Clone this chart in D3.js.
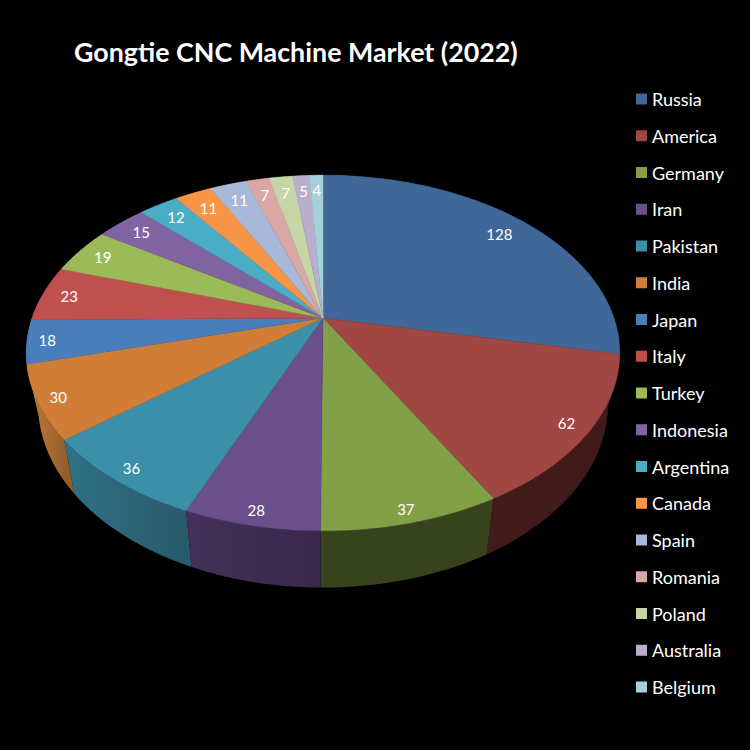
<!DOCTYPE html>
<html><head><meta charset="utf-8">
<script src="https://cdn.jsdelivr.net/npm/d3@7/dist/d3.min.js"></script>
<style>html,body{margin:0;padding:0;background:#000}svg{display:block}text{font-family:Lato,"Open Sans",sans-serif;fill:#fff}</style>
</head><body><svg id="c" width="750" height="750"></svg>
<script>
const categories = ["Russia","America","Germany","Iran","Pakistan","India","Japan","Italy","Turkey","Indonesia","Argentina","Canada","Spain","Romania","Poland","Australia","Belgium"];
const values = [128,62,37,28,36,30,18,23,19,15,12,11,11,7,7,5,4];
const topColors = ["#3f6797","#a04643","#82a047","#6a4f8a","#3c8fa8","#d07d38","#4a7ebb","#c0504d","#9bbb59","#8064a2","#4bacc6","#f79646","#a9b8d8","#d9a7a6","#c5d5a6","#b9aecb","#a6d0dc"];
const wallLeft  = ["#2c4869","#421c1b","#36431c","#44305a","#2f7185","#c07a38","#355a85","#6e2e2c","#5a6c33","#4a3a5e","#2b6373","#8f5728","#62697d","#7d6060","#727b60","#6b6475","#607880"];
const wallRight = ["#1c2e44","#3f1a19","#36431c","#38294a","#285a6a","#8a5a28","#2a4769","#552322","#46542a","#3a2d4a","#224e5b","#704420","#4e5464","#644d4d","#5b624d","#55505e","#4d6066"];
const labelRadius = [0.865,0.927,0.945,0.94,0.934,0.935,0.933,0.905,0.9,0.888,0.879,0.865,0.864,0.87,0.87,0.87,0.875];
const title = "Gongtie CNC Machine Market (2022)";

const W = 750, H = 750;
const svg = d3.select("#c").attr("viewBox", [0,0,W,H]);
svg.append("rect").attr("width",W).attr("height",H).attr("fill","#000");

// perspective projection of the pie disc
const cx = 323, cy = 318, kx = 291, ky = 171, persp = 0.1966;
function project(r, a){
  const u = r*Math.sin(a), v = -r*Math.cos(a), w = 1 - persp*v;
  return [cx + kx*u/w, cy + ky*v/w];
}
function projectBottom(r, a){
  const [x,y] = project(r,a);
  return [cx + 0.96*(x-cx), y + 54 + (y-439)*0.03];
}

const pie = d3.pie().sort(null).value(d=>d).startAngle(0).endAngle(2*Math.PI);
const arcs = pie(values);
const line = d3.line();
const color = d3.scaleOrdinal(d3.range(values.length), topColors);

const defs = svg.append("defs");
arcs.forEach((d,i)=>{
  const g = defs.append("linearGradient").attr("id","wall"+i)
    .attr("gradientUnits","objectBoundingBox").attr("x1",0).attr("x2",1).attr("y1",0).attr("y2",0);
  g.append("stop").attr("offset",0).attr("stop-color",wallLeft[i]);
  g.append("stop").attr("offset",1).attr("stop-color",wallRight[i]);
});
const sample = d => d3.range(0,61).map(k=>d.startAngle+(d.endAngle-d.startAngle)*k/60);
const midAngle = d => (d.startAngle+d.endAngle)/2;

// side walls, back ones first so the front ones overlap them
const wallOrder = arcs.map((d,i)=>({d,i})).sort((p,q)=>Math.abs(midAngle(q.d)-Math.PI)-Math.abs(midAngle(p.d)-Math.PI));
svg.append("g").selectAll("path").data(wallOrder).join("path")
  .attr("fill",p=>`url(#wall${p.i})`)
  .attr("d",p=>{
    const as = sample(p.d);
    return line(as.map(a=>project(1,a)).concat(as.slice().reverse().map(a=>projectBottom(1,a))))+"Z";
  });
// top face
svg.append("g").selectAll("path").data(arcs).join("path")
  .attr("fill",(d,i)=>color(i))
  .attr("stroke",(d,i)=>color(i)).attr("stroke-width",0.4)
  .attr("d",d=>line([[cx,cy]].concat(sample(d).map(a=>project(1,a))))+"Z");

// value labels
svg.append("g").selectAll("text").data(arcs).join("text")
  .attr("text-anchor","middle").attr("dominant-baseline","central")
  .attr("font-size",15)
  .each(function(d,i){
    const p=project(labelRadius[i],midAngle(d));
    d3.select(this).attr("x",p[0]).attr("y",p[1]);
  })
  .text(d=>d.value);

// title
svg.append("text").attr("x",74).attr("y",62).attr("font-size",26.8).attr("font-weight",700).text(title);

// legend
const legendY = d3.scalePoint().domain(categories).range([99,687]);
const lg = svg.append("g").selectAll("g").data(categories).join("g")
  .attr("transform",d=>`translate(636,${legendY(d)})`);
lg.append("rect").attr("y",-5.5).attr("width",11).attr("height",11).attr("fill",(d,i)=>color(i));
lg.append("text").attr("x",16).attr("dominant-baseline","central").attr("font-size",18).text(d=>d);
</script></body></html>
